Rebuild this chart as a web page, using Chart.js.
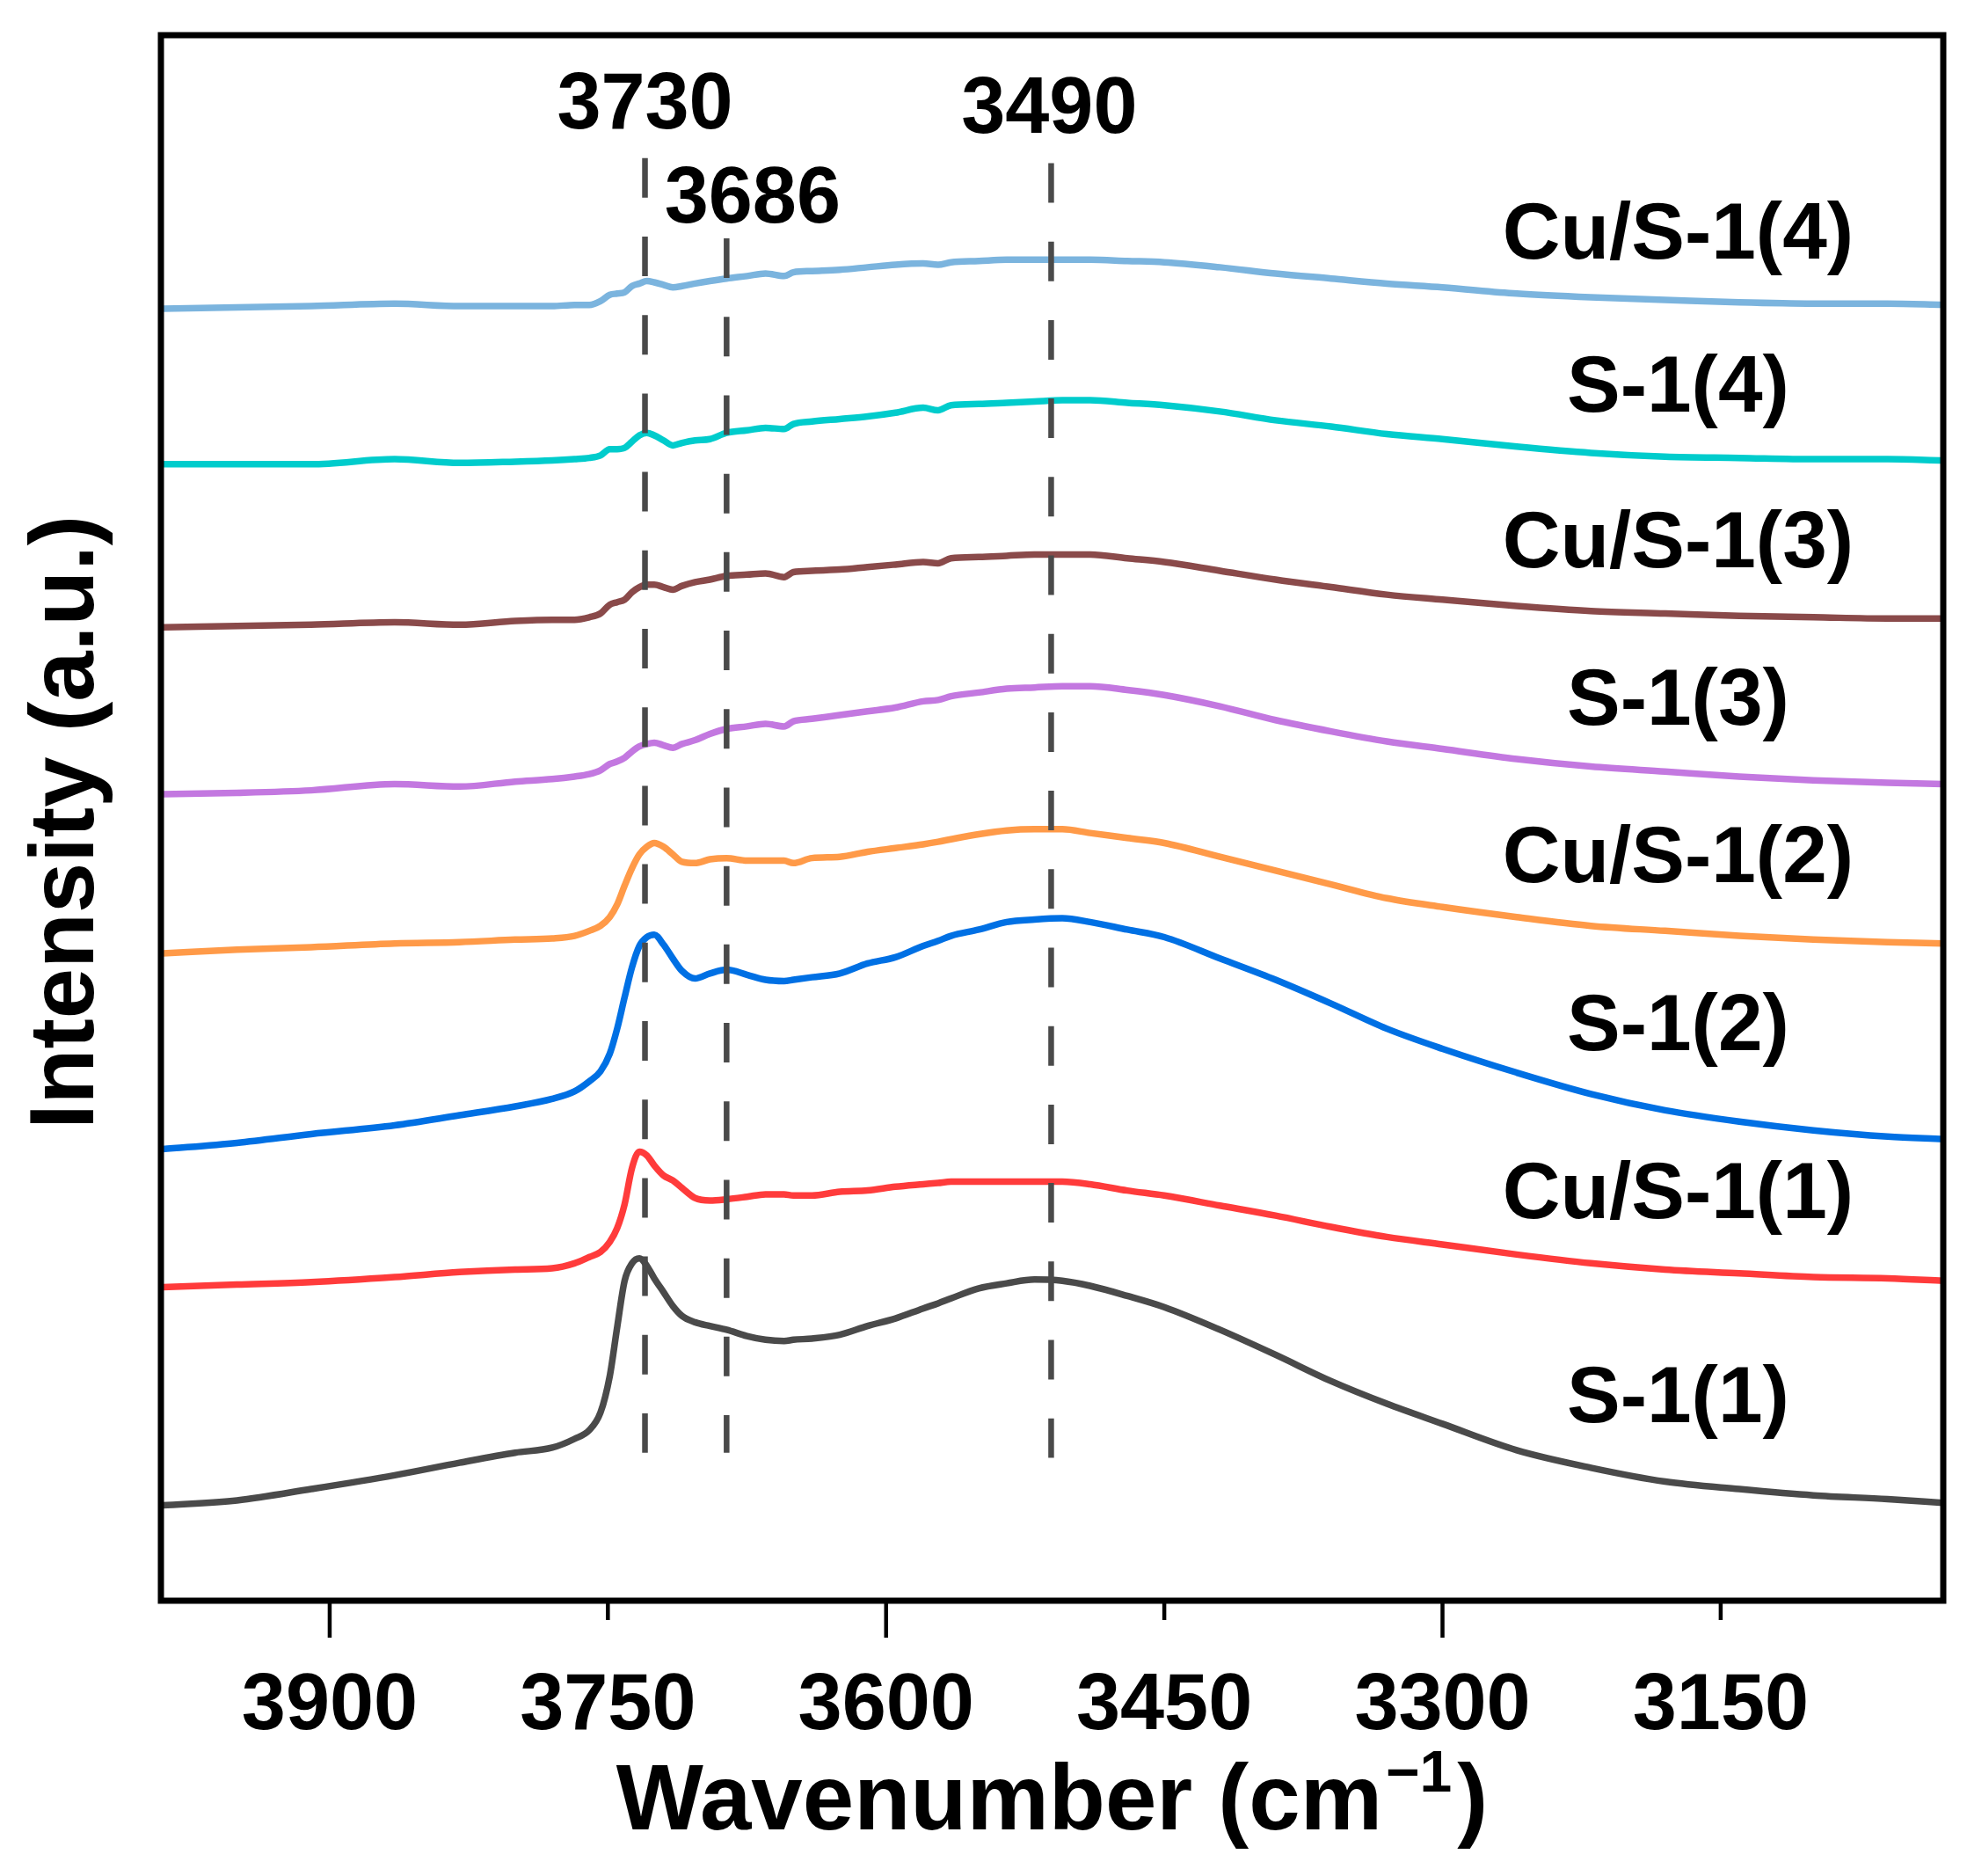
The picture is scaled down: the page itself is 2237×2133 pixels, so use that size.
<!DOCTYPE html>
<html>
<head>
<meta charset="utf-8">
<script src="https://cdn.jsdelivr.net/npm/chart.js@4.4.1/dist/chart.umd.min.js"></script>
<style>
  html, body { margin: 0; padding: 0; background: #fff; }
  #wrap { width: 2237px; height: 2133px; }
</style>
</head>
<body>
<div id="wrap"><canvas id="ftir"></canvas></div>
<script>
// Wavenumber grid (cm-1), shared by all spectra
const wavenumbers = [3990, 3950, 3910, 3865, 3830, 3800, 3780, 3768, 3760, 3754, 3749, 3745, 3741, 3737, 3733, 3729, 3725, 3720, 3715, 3710, 3703, 3695, 3686, 3675, 3665, 3655, 3650, 3640, 3625, 3610, 3595, 3580, 3572, 3565, 3550, 3535, 3520, 3505, 3490, 3470, 3450, 3420, 3390, 3360, 3330, 3300, 3260, 3220, 3180, 3140, 3100, 3060, 3030];

// Intensity (a.u., stacked with offsets)
const s1_1   = [76, 80, 89, 100, 110, 118, 122, 129, 136, 150, 179, 218, 255, 269, 273, 267, 257, 246, 235, 227, 222, 219, 216, 211, 208, 207, 208, 209, 212, 219, 225, 233, 237, 241, 249, 253, 256, 255, 251, 243, 234, 216, 196, 175, 157, 141, 120, 106, 95, 89, 84, 81, 78];
const cuS1_1 = [250, 252, 254, 258, 262, 264, 265, 269, 274, 278, 286, 297, 316, 345, 358, 355, 347, 339, 335, 329, 321, 319, 320, 322, 324, 324, 323, 323, 326, 327, 330, 332, 333, 334, 334, 334, 334, 334, 332, 327, 323, 315, 307, 298, 290, 284, 276, 269, 264, 261, 258, 257, 255];
const s1_2   = [360, 365, 372, 379, 387, 394, 400, 406, 414, 422, 436, 456, 481, 505, 522, 529, 531, 523, 512, 502, 496, 500, 503, 499, 495, 494, 495, 497, 500, 508, 513, 522, 526, 530, 535, 541, 543, 544, 541, 535, 529, 512, 495, 476, 456, 440, 421, 404, 391, 382, 375, 370, 368];
const cuS1_2 = [516, 519, 521, 524, 525, 527, 528, 530, 534, 538, 545, 555, 570, 584, 595, 601, 604, 601, 595, 589, 588, 591, 592, 590, 590, 590, 588, 592, 593, 597, 600, 603, 605, 607, 611, 614, 615, 615, 612, 608, 604, 593, 582, 571, 560, 553, 545, 538, 534, 530, 527, 525, 524];
const s1_3   = [643, 644, 646, 651, 649, 653, 655, 657, 659, 662, 667, 669, 672, 677, 681, 683, 684, 682, 680, 683, 686, 691, 695, 697, 699, 697, 701, 703, 706, 709, 712, 717, 718, 721, 724, 727, 728, 729, 729, 726, 722, 713, 702, 693, 685, 679, 671, 665, 661, 657, 654, 652, 651];
const cuS1_3 = [776, 777, 778, 780, 778, 781, 782, 782, 784, 787, 794, 796, 798, 804, 808, 810, 810, 808, 806, 809, 812, 814, 817, 818, 819, 816, 820, 821, 822, 824, 826, 828, 827, 831, 832, 833, 834, 834, 834, 831, 828, 821, 814, 808, 802, 798, 793, 789, 787, 785, 784, 783, 783];
const s1_4   = [906, 906, 906, 910, 907, 908, 909, 910, 911, 913, 918, 918, 919, 924, 929, 931, 929, 925, 921, 923, 925, 926, 931, 933, 935, 934, 938, 940, 942, 944, 947, 951, 949, 953, 954, 955, 956, 957, 957, 955, 953, 948, 941, 936, 930, 926, 920, 915, 912, 911, 910, 910, 909];
const cuS1_4 = [1030, 1031, 1032, 1034, 1032, 1032, 1032, 1033, 1033, 1036, 1041, 1042, 1043, 1048, 1050, 1052, 1051, 1049, 1047, 1048, 1050, 1052, 1054, 1056, 1058, 1056, 1059, 1060, 1061, 1063, 1065, 1066, 1065, 1067, 1068, 1069, 1069, 1069, 1069, 1068, 1067, 1063, 1058, 1054, 1050, 1047, 1042, 1039, 1037, 1035, 1034, 1034, 1033];

const seriesNames  = ['S-1(1)', 'Cu/S-1(1)', 'S-1(2)', 'Cu/S-1(2)', 'S-1(3)', 'Cu/S-1(3)', 'S-1(4)', 'Cu/S-1(4)'];
const seriesValues = [s1_1, cuS1_1, s1_2, cuS1_2, s1_3, cuS1_3, s1_4, cuS1_4];
const seriesColors = ['#4a4a4a', '#ff3b3b', '#0070e4', '#ff9a48', '#c378e0', '#8a4a4a', '#00cccc', '#7bb4de'];
const nameY = [142, 305, 439, 573, 698, 824, 948, 1070];  // label baselines, same units as intensity
const nameX = 3173;

// Dashed reference lines and their labels
const peakLines   = [3730, 3686, 3511];
const peakTop     = [1150, 1086, 1146];
const peakBottom  = [118, 118, 114];
const peakLabels  = ['3730', '3686', '3490'];
const peakLabelX  = [3730, 3672, 3512];
const peakLabelY  = [1174, 1099, 1170];

const xTicks = [3900, 3750, 3600, 3450, 3300, 3150];
const majorTicks = [3900, 3600, 3300];

const FONT = "'Liberation Sans', Arial, sans-serif";

const datasets = [];
peakLines.forEach((w, i) => {
  datasets.push({
    data: [{ x: w, y: peakTop[i] }, { x: w, y: peakBottom[i] }],
    borderColor: '#4a4a4a',
    borderWidth: 6.5,
    borderDash: [45, 44.2],
    order: 0
  });
});
seriesValues.forEach((vals, i) => {
  datasets.push({
    label: seriesNames[i],
    data: wavenumbers.map((w, j) => ({ x: w, y: vals[j] })),
    borderColor: seriesColors[i],
    borderWidth: 7.5,
    cubicInterpolationMode: 'monotone',
    order: 1
  });
});

// Frame, tick marks and text labels
const decorations = {
  id: 'decorations',
  afterDraw(chart) {
    const { ctx, chartArea: a, scales: { x, y } } = chart;
    ctx.save();

    ctx.strokeStyle = '#000';
    ctx.lineWidth = 4.5;
    xTicks.forEach(v => {
      const px = x.getPixelForValue(v);
      const len = majorTicks.includes(v) ? 42 : 22;
      ctx.beginPath();
      ctx.moveTo(px, a.bottom);
      ctx.lineTo(px, a.bottom + len);
      ctx.stroke();
    });

    ctx.lineWidth = 7;
    ctx.strokeRect(a.left, a.top, a.right - a.left, a.bottom - a.top);

    ctx.fillStyle = '#000';
    ctx.textAlign = 'center';
    ctx.textBaseline = 'alphabetic';

    ctx.font = `bold 90px ${FONT}`;
    peakLabels.forEach((t, i) => {
      ctx.fillText(t, x.getPixelForValue(peakLabelX[i]), y.getPixelForValue(peakLabelY[i]));
    });

    ctx.font = `bold 91px ${FONT}`;
    seriesNames.forEach((t, i) => {
      ctx.fillText(t, x.getPixelForValue(nameX), y.getPixelForValue(nameY[i]));
    });

    // x title with superscript
    const main = 'Wavenumber (cm', sup = '\u22121', tail = ')';
    ctx.font = `bold 105px ${FONT}`;
    const wMain = ctx.measureText(main).width, wTail = ctx.measureText(tail).width;
    ctx.font = `bold 66px ${FONT}`;
    const wSup = ctx.measureText(sup).width;
    let tx = (a.left + a.right) / 2 - (wMain + wSup + 10 + wTail) / 2;
    const base = 2080;
    ctx.textAlign = 'left';
    ctx.font = `bold 105px ${FONT}`;
    ctx.fillText(main, tx, base);
    tx += wMain + 4;
    ctx.font = `bold 66px ${FONT}`;
    ctx.fillText(sup, tx, base - 43);
    tx += wSup + 6;
    ctx.font = `bold 105px ${FONT}`;
    ctx.fillText(tail, tx, base);

    // y title
    ctx.translate(106, 935);
    ctx.rotate(-Math.PI / 2);
    ctx.textAlign = 'center';
    ctx.font = `bold 103px ${FONT}`;
    ctx.fillText('Intensity (a.u.)', 0, 0);

    ctx.restore();
  }
};

new Chart(document.getElementById('ftir'), {
  type: 'line',
  data: { datasets },
  options: {
    animation: false,
    responsive: true,
    maintainAspectRatio: false,
    devicePixelRatio: 1,
    layout: { padding: { left: 183, right: 27, top: 40, bottom: 0 } },
    elements: {
      point: { radius: 0 },
      line: { tension: 0, borderJoinStyle: 'round', fill: false }
    },
    plugins: { legend: { display: false }, tooltip: { enabled: false } },
    scales: {
      x: {
        type: 'linear',
        reverse: true,
        min: 3030,
        max: 3991,
        grid: { display: false },
        border: { display: false },
        ticks: {
          color: '#000',
          padding: 59,
          maxRotation: 0,
          font: { family: FONT, size: 90, weight: 'bold' },
          callback: v => String(v)
        },
        afterBuildTicks: axis => { axis.ticks = xTicks.map(v => ({ value: v })); },
        afterFit: axis => { axis.height = 313; }
      },
      y: { display: false, min: 0, max: 1248 }
    }
  },
  plugins: [decorations]
});
</script>
</body>
</html>
